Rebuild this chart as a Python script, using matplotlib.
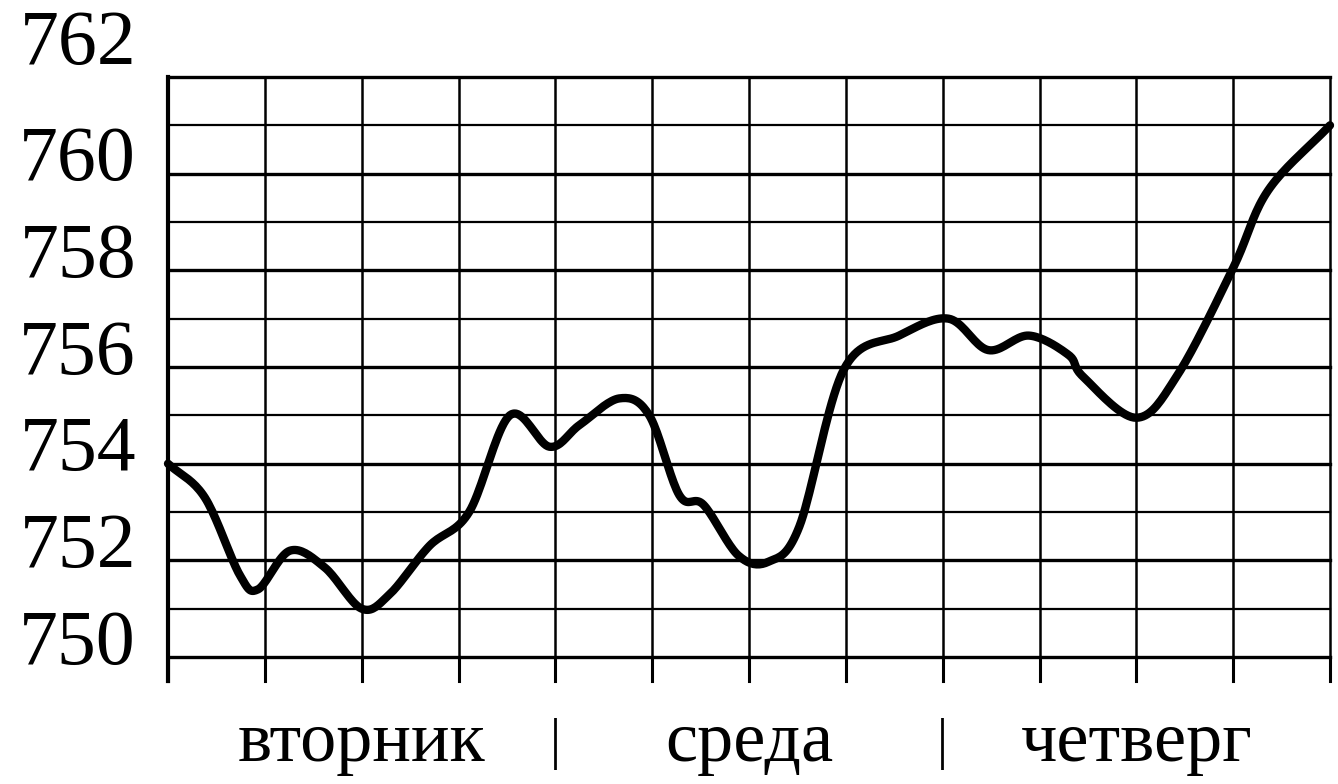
import numpy as np
import matplotlib
matplotlib.use("Agg")
import matplotlib.pyplot as plt

# time in 6-hour intervals, pressure in mm Hg
t = [0, 0.38, 0.74, 0.93, 1.26, 1.62, 2.0, 2.29, 2.7, 3.11, 3.53, 3.94, 4.25, 4.66, 4.97,
     5.28, 5.53, 5.89, 6.2, 6.52, 6.98, 7.55, 8.06, 8.47, 8.89, 9.3, 9.45, 10.0, 10.43,
     11.0, 11.36, 12.0]
p = [754.0, 753.3, 751.7, 751.4, 752.2, 751.85, 751.0, 751.3, 752.3, 753.0, 755.0, 754.35,
     754.8, 755.35, 755.0, 753.35, 753.15, 752.1, 751.97, 752.7, 755.95, 756.65, 757.0,
     756.35, 756.65, 756.25, 755.8, 754.95, 755.85, 758.05, 759.65, 761.0]
yticks = [750, 752, 754, 756, 758, 760, 762]
days = ["вторник", "среда", "четверг"]

def catmull(x, y, n=20):
    x = np.asarray(x, float); y = np.asarray(y, float)
    X = np.concatenate([[2*x[0]-x[1]], x, [2*x[-1]-x[-2]]])
    Y = np.concatenate([[2*y[0]-y[1]], y, [2*y[-1]-y[-2]]])
    ox, oy = [], []
    s = np.linspace(0, 1, n, endpoint=False)
    for i in range(1, len(X)-2):
        for arr, out in ((X, ox), (Y, oy)):
            p0, p1, p2, p3 = arr[i-1:i+3]
            out.extend(0.5*((2*p1) + (-p0+p2)*s + (2*p0-5*p1+4*p2-p3)*s**2 + (-p0+3*p1-3*p2+p3)*s**3))
    ox.append(x[-1]); oy.append(y[-1])
    return ox, oy

plt.rcParams['font.family'] = ['Liberation Serif', 'DejaVu Serif']
fig = plt.figure(figsize=(13.38, 7.84), dpi=100)
ax = fig.add_axes([168/1338, 127/784, 1162/1338, 580/784])
ax.set_xlim(0, 12)
ax.set_ylim(750, 762)
ax.axis('off')
for v in range(750, 763):
    ax.plot([0, 12], [v, v], color='black', lw=2.4 if v % 2 == 0 else 1.6, clip_on=False)
for i in range(13):
    ax.plot([i, i], [750, 762], color='black', lw=1.8, clip_on=False)
    ax.plot([i, i], [749.5, 750], color='black', lw=2.2, clip_on=False)
ax.plot([0, 0], [749.5, 762], color='black', lw=3, clip_on=False)

sx, sy = catmull(t, p)
ax.plot(sx, sy, color='black', lw=6, solid_capstyle='round', clip_on=False)

for v in yticks:
    off = 0.65 if v == 762 else 0.25
    ax.text(-0.33, v + off, str(v), fontsize=56, ha='right', va='center')
for i, d in enumerate(days):
    ax.text(2 + 4*i, 748.2, d, fontsize=52, ha='center', va='center')
for i in (4, 8):
    ax.text(i, 748.2, "|", fontsize=40, ha='center', va='center')

fig.savefig("out.png", dpi=100)
